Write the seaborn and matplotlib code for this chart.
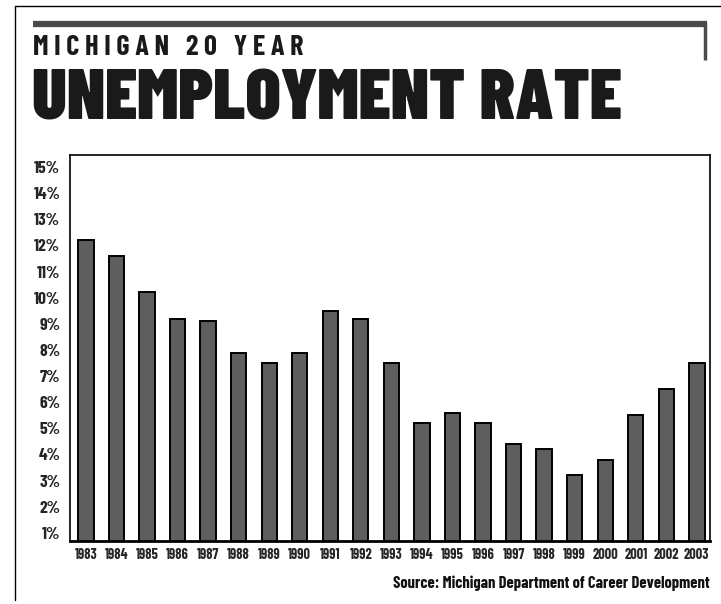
import numpy as np
import pandas as pd
import matplotlib
matplotlib.use("Agg")
import matplotlib.pyplot as plt
import seaborn as sns
from matplotlib.lines import Line2D
import warnings
warnings.filterwarnings("ignore")

# Daten
years = [str(y) for y in range(1983, 2004)]
rates = [12.2, 11.6, 10.2, 9.2, 9.1, 7.9, 7.5, 7.9, 9.5, 9.2, 7.5,
         5.2, 5.6, 5.2, 4.4, 4.2, 3.2, 3.8, 5.5, 6.5, 7.5]
ytick_vals = list(range(1, 16))
ytick_labels = [f"{v}%" for v in ytick_vals]

title_small = "M I C H I G A N   2 0   Y E A R"
title_big = "UNEMPLOYMENT RATE"
source_text = "Source: Michigan Department of Career Development"

W, H = 721, 604
COND = ['Barlow Condensed', 'Asap Condensed', 'DejaVu Sans']

sns.set_style("white")
plt.rcParams['font.family'] = COND

fig = plt.figure(figsize=(W / 100, H / 100), dpi=100)
fig.patch.set_facecolor("white")
renderer = fig.canvas.get_renderer()


def fit_width(t, target_px):
    """Schriftgroesse so anpassen, dass die Textbreite passt"""
    for _ in range(3):
        w = t.get_window_extent(renderer=renderer).width
        t.set_fontsize(t.get_fontsize() * target_px / w)
    return t


def fy(y):
    return 1 - y / H


# Rahmen / Zierlinien
fig.add_artist(Line2D([15 / W, 1], [fy(6), fy(6)], color="black", lw=1.0,
                      transform=fig.transFigure))
fig.add_artist(Line2D([15 / W, 15 / W], [fy(6), fy(600)], color="black", lw=1.0,
                      transform=fig.transFigure))
fig.add_artist(Line2D([33 / W, 707 / W], [fy(24), fy(24)], color="#4a4a4a", lw=4.5,
                      solid_capstyle="butt", transform=fig.transFigure))
fig.add_artist(Line2D([705 / W, 705 / W], [fy(22), fy(60)], color="#4a4a4a", lw=2.5,
                      solid_capstyle="butt", transform=fig.transFigure))

# Titel
t1 = fig.text(33 / W, fy(55), title_small, family=COND, fontweight="bold",
              fontsize=14, color="#1a1a1a", va="baseline", ha="left")
fit_width(t1, 272)
t2 = fig.text(32 / W, fy(120), title_big, family=COND, fontweight="black",
              fontsize=60, color="#1a1a1a", va="baseline", ha="left")
fit_width(t2, 590)

# Diagramm
ax = fig.add_axes([70 / W, fy(541), 640 / W, 386 / H])
df = pd.DataFrame({"Jahr": years, "Rate": rates})
sns.barplot(data=df, x="Jahr", y="Rate", color="#5e5e5e", width=0.5,
            saturation=1, edgecolor="black", linewidth=1.4, ax=ax)

ax.set_ylim(0.69, 15.46)
ax.set_xlim(-0.52, len(years) - 0.57)
ax.set_yticks(ytick_vals)
ax.set_yticklabels(ytick_labels)
ax.set_xlabel("")
ax.set_ylabel("")
ax.tick_params(axis="y", length=0, pad=7)
ax.tick_params(axis="x", length=0, pad=5)
for lab in ax.get_yticklabels():
    lab.set_fontweight("bold")
    lab.set_fontsize(13)
for lab in ax.get_xticklabels():
    lab.set_fontweight("bold")
    lab.set_fontsize(11)
fig.canvas.draw()
# Breiten an Vorlage anpassen
yl = ax.get_yticklabels()[-1]
ys = 26 / yl.get_window_extent(renderer=renderer).width
for lab in ax.get_yticklabels():
    lab.set_fontsize(lab.get_fontsize() * ys)
xl = ax.get_xticklabels()[0]
xs = 23 / xl.get_window_extent(renderer=renderer).width
for lab in ax.get_xticklabels():
    lab.set_fontsize(lab.get_fontsize() * xs)

for name, sp in ax.spines.items():
    sp.set_visible(True)
    sp.set_color("black")
    sp.set_linewidth(1.2)
ax.spines["bottom"].set_linewidth(2.0)

# Quelle
t3 = fig.text(710 / W, fy(588), source_text, family=COND, fontweight="bold",
              fontsize=12, color="#111111", va="baseline", ha="right")
fit_width(t3, 317)

fig.savefig("out.png", dpi=100)
